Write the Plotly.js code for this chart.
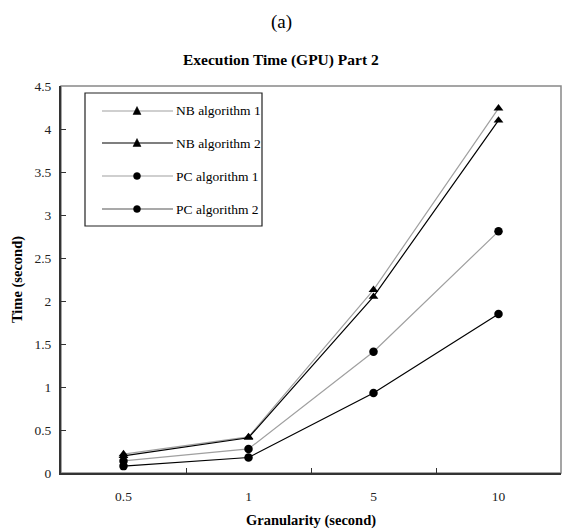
<!DOCTYPE html>
<html>
<head>
<meta charset="utf-8">
<script src="https://cdn.plot.ly/plotly-3.0.1.min.js"></script>
<style>html,body{margin:0;padding:0;background:#fff;}</style>
</head>
<body>
<div id="chart" style="width:562px;height:532px;"></div>
<script>
const categories = ["0.5", "1", "5", "10"];
const nbAlg1 = [0.22, 0.42, 2.13, 4.24];
const nbAlg2 = [0.20, 0.41, 2.05, 4.10];
const pcAlg1 = [0.14, 0.28, 1.41, 2.81];
const pcAlg2 = [0.08, 0.18, 0.93, 1.85];
const seriesNames = ["NB algorithm 1", "NB algorithm 2", "PC algorithm 1", "PC algorithm 2"];
const yTicks = [0, 0.5, 1, 1.5, 2, 2.5, 3, 3.5, 4, 4.5];

const GRAY = "#a0a0a0", BLACK = "#000000";
const styles = [
  {color: GRAY, symbol: "triangle-up"},
  {color: BLACK, symbol: "triangle-up"},
  {color: GRAY, symbol: "circle"},
  {color: BLACK, symbol: "circle"}
];
const allSeries = [nbAlg1, nbAlg2, pcAlg1, pcAlg2];

const traces = allSeries.map((vals, i) => ({
  type: "scatter", mode: "lines+markers",
  x: categories, y: vals, name: seriesNames[i],
  line: {color: styles[i].color, width: 1.2},
  marker: {color: "#000", symbol: styles[i].symbol, size: 8.5},
  showlegend: false, cliponaxis: false
}));

// plot area pixel geometry
const L = 61, R = 561, T = 86, B = 473;
const px = x => (x - L) / (R - L);
const py = y => (B - y) / (B - T);

const FONT = '"Liberation Serif", "Times New Roman", Times, serif';
const shapes = [
  {type: "rect", xref: "paper", yref: "paper", x0: 0, x1: 1, y0: 0, y1: 1,
   line: {color: "#888", width: 1.5}, layer: "below"},
  {type: "rect", xref: "paper", yref: "paper", x0: px(85), x1: px(262), y0: py(226), y1: py(93),
   line: {color: "#222", width: 1.2}, fillcolor: "#fff"}
];
const annotations = [
  {text: "(a)", xref: "paper", yref: "paper", x: px(281), y: py(22), yanchor: "middle", showarrow: false,
   font: {family: FONT, size: 19, color: "#000"}},
  {text: "<b>Execution Time (GPU) Part 2</b>", xref: "paper", yref: "paper", x: px(281), y: py(60),
   yanchor: "middle", showarrow: false, font: {family: FONT, size: 15.5, color: "#000"}}
];
const legendY = [111, 143, 176, 209];
seriesNames.forEach((name, i) => {
  const y = legendY[i];
  shapes.push({type: "line", xref: "paper", yref: "paper", x0: px(102), x1: px(173), y0: py(y), y1: py(y),
    line: {color: i === 3 ? "#555" : styles[i].color, width: 1.2}});
  if (styles[i].symbol === "circle") {
    shapes.push({type: "circle", xref: "paper", yref: "paper", x0: px(133.5), x1: px(140.5), y0: py(y + 3.5), y1: py(y - 3.5),
      line: {color: "#000", width: 0.5}, fillcolor: "#000"});
  } else {
    shapes.push({type: "path", xref: "paper", yref: "paper",
      path: `M ${px(133)},${py(y + 3.5)} L ${px(141)},${py(y + 3.5)} L ${px(137)},${py(y - 4.5)} Z`,
      line: {color: "#000", width: 0.5}, fillcolor: "#000"});
  }
  annotations.push({text: name, xref: "paper", yref: "paper", x: px(174), y: py(y),
    xanchor: "left", yanchor: "middle", showarrow: false,
    font: {family: FONT, size: 13.5, color: "#000"}});
});

const layout = {
  width: 562, height: 532,
  margin: {l: L, r: 562 - R, t: T, b: 532 - B},
  paper_bgcolor: "#fff", plot_bgcolor: "#fff",
  font: {family: FONT, color: "#000"},
  showlegend: false,
  xaxis: {
    type: "category", range: [-0.5, 3.5], tickson: "boundaries",
    ticks: "inside", ticklen: 5, tickcolor: "#333", tickwidth: 1,
    showline: true, linecolor: "#333", linewidth: 2, showgrid: false, zeroline: false,
    ticklabelstandoff: 10,
    tickfont: {family: FONT, size: 13.5, color: "#222"},
    title: {text: "<b>Granularity (second)</b>", font: {family: FONT, size: 14.5, color: "#000"}, standoff: 12}
  },
  yaxis: {
    range: [0, 4.5], tickvals: yTicks, ticktext: yTicks.map(String),
    ticks: "inside", ticklen: 5, tickcolor: "#333", tickwidth: 1,
    showline: true, linecolor: "#333", linewidth: 2, showgrid: false, zeroline: false,
    ticklabelstandoff: 5,
    tickfont: {family: FONT, size: 13.5, color: "#222"},
    title: {text: "<b>Time (second)</b>", font: {family: FONT, size: 14.5, color: "#000"}, standoff: 8}
  },
  shapes: shapes,
  annotations: annotations
};

Plotly.newPlot("chart", traces, layout, {displayModeBar: false, staticPlot: true});
</script>
</body>
</html>
